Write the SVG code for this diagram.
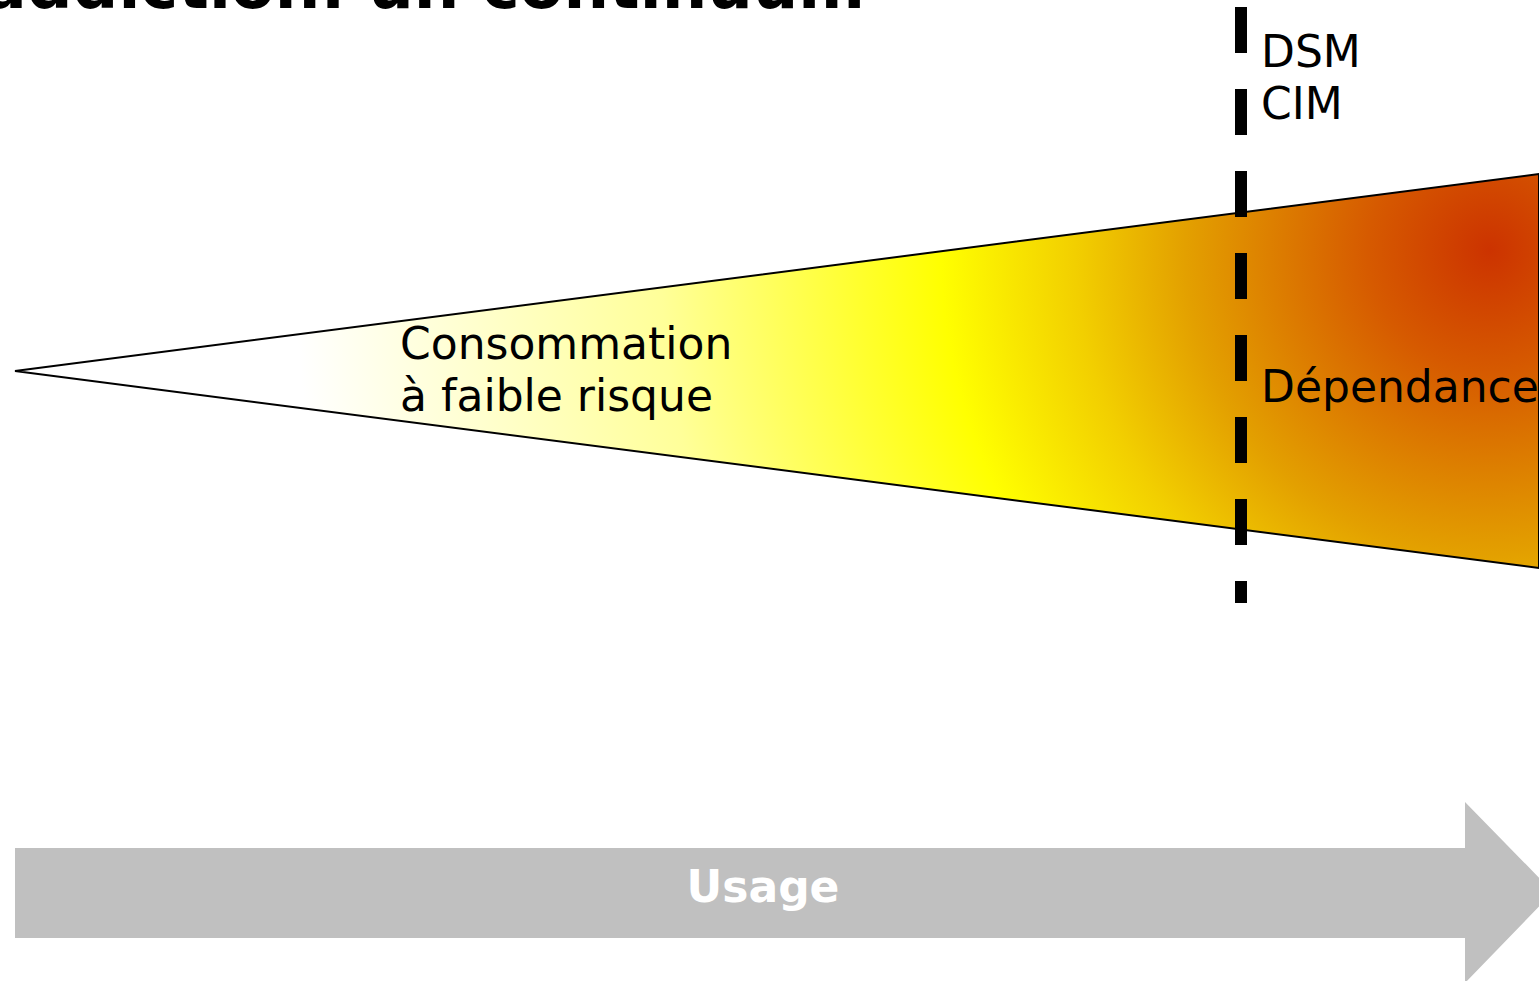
<svg xmlns="http://www.w3.org/2000/svg" width="1539" height="981" viewBox="0 0 1539 981">
  <defs>
    <radialGradient id="heat" gradientUnits="userSpaceOnUse" cx="1490" cy="250" r="1220">
      <stop offset="0" stop-color="#CC3300"/>
      <stop offset="0.1" stop-color="#D65A00"/>
      <stop offset="0.25" stop-color="#E3A000"/>
      <stop offset="0.34" stop-color="#F2CF00"/>
      <stop offset="0.45" stop-color="#FFFF00"/>
      <stop offset="0.68" stop-color="#FFFF99"/>
      <stop offset="0.98" stop-color="#FFFFFF"/>
    </radialGradient>
    <style>
      .lbl { font-family: "DejaVu Sans", Verdana, sans-serif; font-size: 44px; fill: #000; }
      .title { font-family: "DejaVu Sans", Verdana, sans-serif; font-weight: bold; font-size: 64px; fill: #000; }
      .usage { font-family: "DejaVu Sans", Verdana, sans-serif; font-weight: bold; font-size: 44px; fill: #FFFFFF; }
    </style>
  </defs>
  <rect width="1539" height="981" fill="#FFFFFF"/>
  <g id="title">
    <text class="title" x="865" y="8" text-anchor="end">L'addiction: un continuum</text>
  </g>
  <g id="wedge">
    <polygon points="15,371 1539,174 1539,568" fill="url(#heat)" stroke="#000" stroke-width="2" stroke-linejoin="miter"/>
    <text class="lbl" x="400" y="359">Consommation</text>
    <text class="lbl" x="400" y="411">à faible risque</text>
    <text class="lbl" x="1261" y="402">Dépendance</text>
  </g>
  <g id="threshold">
    <line x1="1241" y1="7" x2="1241" y2="603" stroke="#000" stroke-width="12" stroke-dasharray="46 36"/>
    <text class="lbl" x="1261" y="67">DSM</text>
    <text class="lbl" x="1261" y="119">CIM</text>
  </g>
  <g id="usage-arrow">
    <polygon points="15,848 1465,848 1465,802 1553,892 1465,983 1465,938 15,938" fill="#C0C0C0"/>
    <text class="usage" x="763" y="902" text-anchor="middle">Usage</text>
  </g>
</svg>
